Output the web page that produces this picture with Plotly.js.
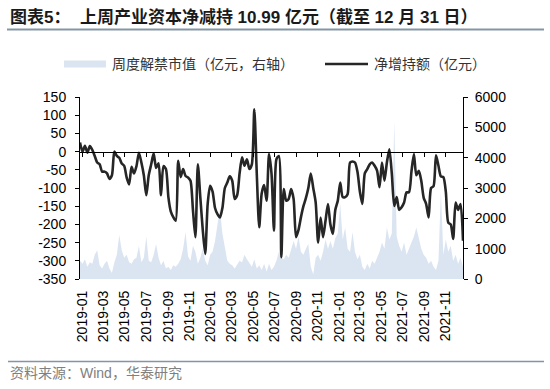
<!DOCTYPE html>
<html>
<head>
<meta charset="utf-8">
<script src="https://cdn.plot.ly/plotly-3.0.1.min.js"></script>
<style>
  html, body { margin: 0; padding: 0; background: #fff; }
  #chart { width: 550px; height: 389px; }
</style>
</head>
<body>
<div id="chart"></div>
<script>
// ---- data (weekly) ----
const firstWeek = '2018-12-24';
const weekCount = 157;
const netFlow = [
  25, 0, 16, -3, 15, 5, -12, -30, -35, -55,
  -55, -60, -75, -65, 0, -12, -17, -33, -39, -71,
  -90, -42, -60, -40, -3, -30, -65, -120, -65, -35,
  -5, -45, -32, -120, -40, -48, -125, -165, -180, -190,
  -25, -70, -48, -67, -71, -80, -160, -235, -35, -125,
  -215, -281, -144, -94, -110, -155, -172, -181, -155, -100,
  -85, -68, -80, -130, -120, -60, -16, -39, -21, -48,
  -35, 116, -60, -208, -115, -92, -135, -7, -60, -217,
  -21, -12, -290, -103, -135, -130, -103, -130, -235, -215,
  -180, -150, -128, -100, -60, -100, -140, -250, -181, -235,
  -190, -144, -200, -226, -160, -135, -85, -125, -125, -117,
  -30, -27, -30, -55, -110, -144, -60, -48, -35, -30,
  -39, -52, -98, -30, -80, -30, 6, -60, -149, -125,
  -160, -153, -140, -112, -112, -55, -7, -65, -53, -80,
  -127, -144, -181, -100, -95, -10, -39, -68, -70, -110,
  -195, -200, -240, -140, -160, -144, -245
];
const unlockValue = [
  600, 500, 650, 400, 550, 500, 800, 950, 450, 350,
  500, 600, 350, 200, 550, 800, 1450, 950, 700, 800,
  550, 500, 650, 700, 1100, 550, 700, 1400, 600, 550,
  800, 1150, 700, 450, 600, 350, 400, 300, 450, 400,
  500, 650, 1000, 1550, 750, 600, 1100, 900, 500, 700,
  1000, 600, 450, 800, 900, 1250, 1800, 2300, 1500, 1000,
  600, 500, 450, 350, 500, 600, 550, 800, 650, 500,
  400, 650, 350, 450, 300, 500, 250, 500, 300, 400,
  600, 900, 700, 650, 800, 700, 1000, 1250, 1000, 1400,
  900, 800, 1000, 1150, 400, 150, 700, 800, 600, 900,
  1300, 1000, 1250, 1000, 1350, 1500, 2500, 1300, 1700, 1000,
  900, 1550, 900, 650, 800, 400, 300, 500, 350, 600,
  500, 700, 900, 1200, 1000, 1700, 1300, 1500, 5200, 1400,
  1100, 900, 1200, 800, 1000, 1250, 1400, 1700, 1300, 1000,
  800, 700, 500, 600, 400, 300, 600, 2900, 800, 1300,
  900, 1100, 600, 800, 500, 700, 400
];
const seriesNames = ['周度解禁市值（亿元，右轴）', '净增持额（亿元）'];
const leftTicks = [150, 100, 50, 0, -50, -100, -150, -200, -250, -300, -350];
const rightTicks = [0, 1000, 2000, 3000, 4000, 5000, 6000];
const titleText = '图表5：  上周产业资本净减持 10.99 亿元（截至 12 月 31 日）';
const sourceText = '资料来源：Wind，华泰研究';

// weekly dates
const dates = [];
{
  const d0 = new Date(firstWeek + 'T00:00:00Z');
  for (let i = 0; i < weekCount; i++) {
    const d = new Date(d0.getTime() + i * 7 * 86400000);
    dates.push(d.toISOString().slice(0, 10));
  }
}
const xRange = [dates[0], dates[dates.length - 1]];

// ---- layout geometry ----
const W = 550, H = 389;
const L = 80, R = 463, T = 97, B = 279;
const px = x => (x - L) / (R - L);
const py = y => (B - y) / (B - T);

const fontLatin = 'Liberation Sans, Arial, Noto Sans CJK SC, sans-serif';
const fontCJK = 'Liberation Sans, Noto Sans CJK SC, sans-serif';

const traces = [
  {
    x: dates, y: unlockValue, name: seriesNames[0],
    type: 'scatter', mode: 'lines', fill: 'tozeroy',
    fillcolor: '#dbe5f1', line: {width: 0, color: '#dbe5f1'},
    xaxis: 'x', yaxis: 'y', showlegend: false, hoverinfo: 'skip'
  },
  {
    x: dates, y: netFlow, name: seriesNames[1],
    type: 'scatter', mode: 'lines',
    line: {color: '#262626', width: 2.6, shape: 'spline', smoothing: 0.7},
    xaxis: 'x2', yaxis: 'y2', showlegend: false, hoverinfo: 'skip'
  }
];

const layout = {
  width: W, height: H,
  margin: {l: L, r: W - R, t: T, b: H - B, pad: 0},
  paper_bgcolor: '#fff', plot_bgcolor: 'rgba(0,0,0,0)',
  showlegend: false,
  font: {family: fontLatin, size: 14, color: '#000'},
  title: {
    text: '<b>' + titleText + '</b>',
    font: {family: fontCJK, size: 17, color: '#1a1a1a'},
    xref: 'container', yref: 'container',
    x: 10 / W, xanchor: 'left', y: 1 - 17 / H, yanchor: 'middle'
  },
  xaxis: {
    type: 'date', range: xRange, domain: [0, 1],
    showline: false, showgrid: false, zeroline: false,
    ticks: '', tick0: '2019-01-01', dtick: 'M2', tickformat: '%Y-%m',
    tickangle: -90, tickfont: {size: 14, color: '#000'},
    ticklabelstandoff: 8, anchor: 'y'
  },
  xaxis2: {
    type: 'date', range: xRange, overlaying: 'x', matches: 'x',
    anchor: 'free', position: 0.7, side: 'bottom',
    showline: true, linecolor: '#000', linewidth: 1.2,
    ticks: 'outside', ticklen: 4, tickwidth: 1, tickcolor: '#000',
    tick0: '2019-01-01', dtick: 'M2', showticklabels: false,
    showgrid: false, zeroline: false
  },
  yaxis: {
    range: [0, 6000], side: 'right', anchor: 'x',
    tickvals: rightTicks, ticktext: rightTicks.map(String),
    showline: true, linecolor: '#000', linewidth: 1,
    ticks: 'outside', ticklen: 4, tickcolor: '#000',
    showgrid: false, zeroline: false, tickfont: {size: 14, color: '#000'},
    ticklabelstandoff: 4
  },
  yaxis2: {
    range: [-350, 150], side: 'left', overlaying: 'y', anchor: 'x2',
    tickvals: leftTicks, ticktext: leftTicks.map(String),
    showline: true, linecolor: '#000', linewidth: 1,
    ticks: 'outside', ticklen: 4, tickcolor: '#000',
    showgrid: false, zeroline: false, tickfont: {size: 14, color: '#000'},
    ticklabelstandoff: 6
  },
  shapes: [
    // title underline
    {type: 'line', xref: 'paper', yref: 'paper',
     x0: px(7), x1: px(544), y0: py(29.5), y1: py(29.5),
     line: {color: '#8595a6', width: 2}},
    // bottom separator
    {type: 'line', xref: 'paper', yref: 'paper',
     x0: px(8), x1: px(544), y0: py(361.5), y1: py(361.5),
     line: {color: '#8595a6', width: 1.3}},
    // legend swatches
    {type: 'rect', xref: 'paper', yref: 'paper',
     x0: px(64), x1: px(106), y0: py(60.5), y1: py(67.5),
     fillcolor: '#dbe5f1', line: {width: 0}},
    {type: 'line', xref: 'paper', yref: 'paper',
     x0: px(325), x1: px(368), y0: py(64), y1: py(64),
     line: {color: '#262626', width: 2.4}}
  ],
  annotations: [
    {xref: 'paper', yref: 'paper', x: px(110), y: py(64),
     xanchor: 'left', yanchor: 'middle', showarrow: false,
     text: seriesNames[0], font: {family: fontCJK, size: 14, color: '#333'}},
    {xref: 'paper', yref: 'paper', x: px(372), y: py(64),
     xanchor: 'left', yanchor: 'middle', showarrow: false,
     text: seriesNames[1], font: {family: fontCJK, size: 14, color: '#333'}},
    {xref: 'paper', yref: 'paper', x: px(8), y: py(373),
     xanchor: 'left', yanchor: 'middle', showarrow: false,
     text: sourceText, font: {family: fontCJK, size: 14, color: '#808080'}}
  ]
};

Plotly.newPlot('chart', traces, layout, {staticPlot: true, displayModeBar: false});
</script>
</body>
</html>
